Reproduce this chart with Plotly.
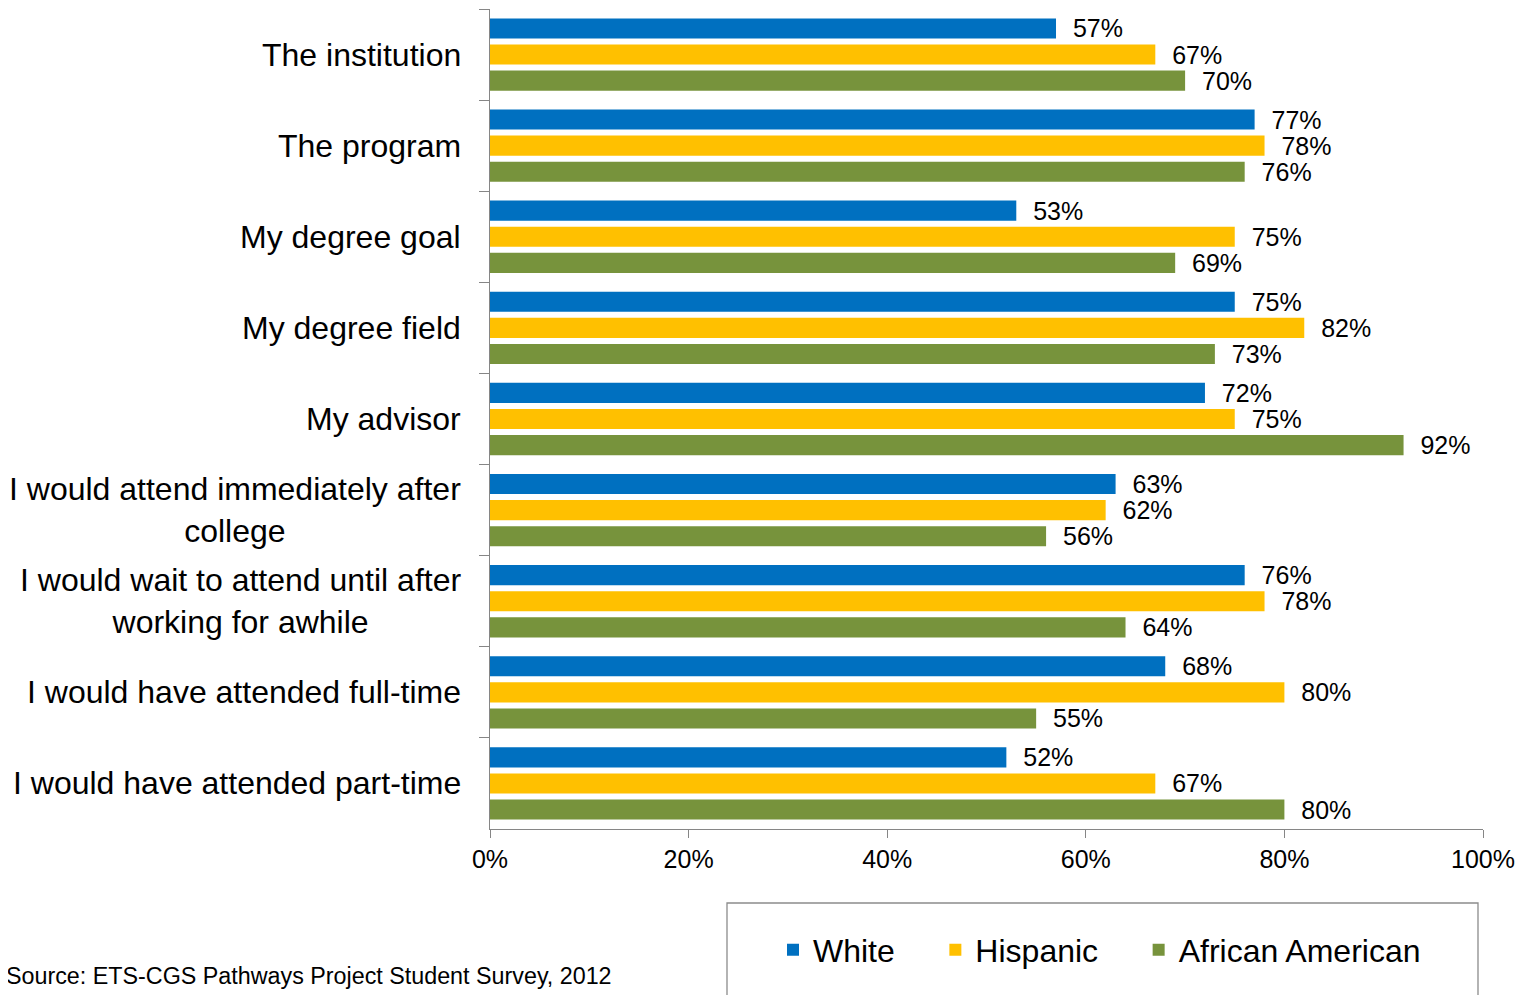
import plotly.graph_objects as go

categories = [
    "The institution",
    "The program",
    "My degree goal",
    "My degree field",
    "My advisor",
    "I would attend immediately after<br>college",
    "I would wait to attend until after<br>working for awhile",
    "I would have attended full-time",
    "I would have attended part-time",
]
white = [57, 77, 53, 75, 72, 63, 76, 68, 52]
hispanic = [67, 78, 75, 82, 75, 62, 78, 80, 67]
african_american = [70, 76, 69, 73, 92, 56, 64, 55, 80]

series = [
    ("White", white, "#0070C0"),
    ("Hispanic", hispanic, "#FFC000"),
    ("African American", african_american, "#77933C"),
]
x_ticks = [0, 20, 40, 60, 80, 100]
x_tick_labels = ["0%", "20%", "40%", "60%", "80%", "100%"]
source_text = "Source: ETS-CGS Pathways Project Student Survey, 2012"

FONT = "Liberation Sans, Arial, sans-serif"
NBSP = "\u00a0"

fig = go.Figure()
for idx, (name, vals, color) in enumerate(series):
    legend_name = name + (NBSP * 4 if idx < len(series) - 1 else "")
    fig.add_trace(go.Bar(
        y=categories,
        x=vals,
        name=legend_name,
        orientation="h",
        marker=dict(color=color, line=dict(width=0)),
        text=[f"{v}%" for v in vals],
        texttemplate="  %{text}",
        textposition="outside",
        constraintext="none",
        cliponaxis=False,
        textfont=dict(family=FONT, size=25, color="#000000"),
        hoverinfo="x+y+name",
    ))

# category labels as centered annotations
for c in categories:
    fig.add_annotation(
        x=0, xref="paper", y=c, yref="y",
        text=c, showarrow=False, xanchor="right", align="center",
        xshift=-27, font=dict(family=FONT, size=32, color="#000000"),
    )

fig.add_annotation(
    x=(614 - 490) / 993, xref="paper", y=(829 - 976) / 820, yref="paper",
    text=source_text, showarrow=False, xanchor="right", yanchor="middle",
    font=dict(family=FONT, size=23.3, color="#000000"),
)

fig.add_shape(
    type="rect", xref="paper", yref="paper",
    x0=(727 - 490) / 993, x1=(1478 - 490) / 993,
    y0=(829 - 903) / 820, y1=(829 - 1010) / 820,
    line=dict(color="#8C8C8C", width=1.3), fillcolor="rgba(0,0,0,0)",
)

fig.update_layout(
    width=1520, height=987,
    margin=dict(l=482, r=45, t=1, b=166, autoexpand=False),
    paper_bgcolor="white", plot_bgcolor="white",
    barmode="group", bargap=0.14, bargroupgap=0.23,
    showlegend=True,
    legend=dict(
        orientation="h", x=(773 - 490) / 993, y=(829 - 950) / 820,
        xanchor="left", yanchor="middle",
        font=dict(family=FONT, size=32, color="#000000"),
        bgcolor="rgba(0,0,0,0)", traceorder="normal",
    ),
    font=dict(family=FONT, color="#000000"),
)
fig.update_xaxes(
    range=[0, 100], tickvals=x_ticks, ticktext=x_tick_labels,
    showgrid=False, zeroline=False, showline=True,
    linecolor="#868686", linewidth=1.3,
    ticks="outside", ticklen=8, tickcolor="#868686",
    tickfont=dict(family=FONT, size=25, color="#000000"),
)
fig.update_yaxes(
    type="category", categoryorder="array", categoryarray=categories,
    autorange="reversed",
    showticklabels=False, showgrid=False, zeroline=False,
    showline=True, linecolor="#868686", linewidth=1.3,
    ticks="outside", ticklen=10, tickcolor="#868686",
    tickson="boundaries",
)

fig.write_html("out.html")
